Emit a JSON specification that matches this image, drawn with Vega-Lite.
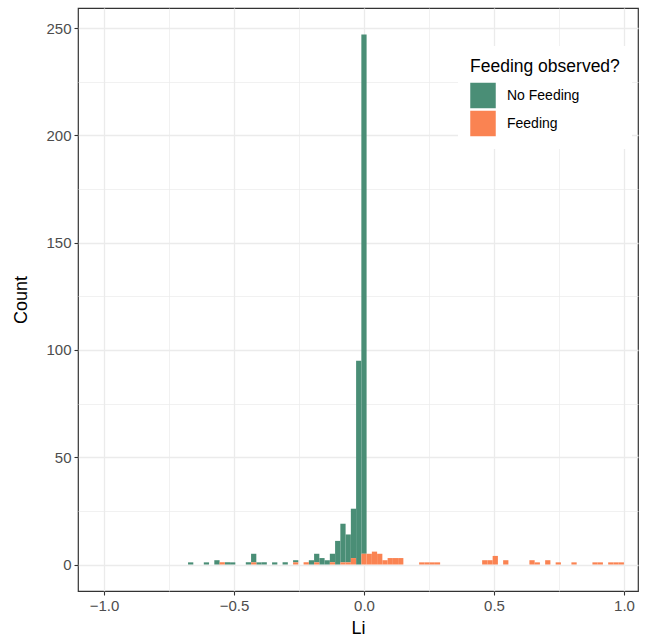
{
  "$schema": "https://vega.github.io/schema/vega-lite/v6.json",
  "autosize": {"type": "none"},
  "padding": {"left": 78, "top": 8, "right": 9, "bottom": 53},
  "width": 560,
  "height": 583,
  "config": {
    "font": "Liberation Sans",
    "view": {"stroke": "#333333", "strokeWidth": 1.2},
    "axis": {"labelFont": "Liberation Sans", "titleFont": "Liberation Sans"}
  },
  "data": {"values": [
    {"start": -0.6767, "end": -0.6565, "count": 1, "group": "No Feeding"},
    {"start": -0.6161, "end": -0.5959, "count": 1, "group": "No Feeding"},
    {"start": -0.5757, "end": -0.5555, "count": 2, "group": "No Feeding"},
    {"start": -0.5353, "end": -0.5151, "count": 1, "group": "No Feeding"},
    {"start": -0.5151, "end": -0.4949, "count": 1, "group": "No Feeding"},
    {"start": -0.4545, "end": -0.4343, "count": 1, "group": "No Feeding"},
    {"start": -0.4343, "end": -0.4141, "count": 4, "group": "No Feeding"},
    {"start": -0.4141, "end": -0.3939, "count": 1, "group": "No Feeding"},
    {"start": -0.3939, "end": -0.3737, "count": 1, "group": "No Feeding"},
    {"start": -0.3535, "end": -0.3333, "count": 1, "group": "No Feeding"},
    {"start": -0.3131, "end": -0.2929, "count": 1, "group": "No Feeding"},
    {"start": -0.2727, "end": -0.2525, "count": 1, "group": "No Feeding"},
    {"start": -0.2121, "end": -0.1919, "count": 2, "group": "No Feeding"},
    {"start": -0.1919, "end": -0.1717, "count": 4, "group": "No Feeding"},
    {"start": -0.1717, "end": -0.1515, "count": 3, "group": "No Feeding"},
    {"start": -0.1515, "end": -0.1313, "count": 2, "group": "No Feeding"},
    {"start": -0.1313, "end": -0.1111, "count": 4, "group": "No Feeding"},
    {"start": -0.1111, "end": -0.0909, "count": 11, "group": "No Feeding"},
    {"start": -0.0909, "end": -0.0707, "count": 18, "group": "No Feeding"},
    {"start": -0.0707, "end": -0.0505, "count": 13, "group": "No Feeding"},
    {"start": -0.0505, "end": -0.0303, "count": 23, "group": "No Feeding"},
    {"start": -0.0303, "end": -0.0101, "count": 95, "group": "No Feeding"},
    {"start": -0.0101, "end": 0.0101, "count": 242, "group": "No Feeding"},
    {"start": -0.5555, "end": -0.5353, "count": 1, "group": "Feeding"},
    {"start": -0.4343, "end": -0.4141, "count": 1, "group": "Feeding"},
    {"start": -0.2727, "end": -0.2525, "count": 1, "group": "Feeding"},
    {"start": -0.2323, "end": -0.2121, "count": 1, "group": "Feeding"},
    {"start": -0.1919, "end": -0.1717, "count": 1, "group": "Feeding"},
    {"start": -0.1313, "end": -0.1111, "count": 1, "group": "Feeding"},
    {"start": -0.0909, "end": -0.0707, "count": 1, "group": "Feeding"},
    {"start": -0.0707, "end": -0.0505, "count": 1, "group": "Feeding"},
    {"start": -0.0505, "end": -0.0303, "count": 3, "group": "Feeding"},
    {"start": -0.0101, "end": 0.0101, "count": 5, "group": "Feeding"},
    {"start": 0.0101, "end": 0.0303, "count": 5, "group": "Feeding"},
    {"start": 0.0303, "end": 0.0505, "count": 6, "group": "Feeding"},
    {"start": 0.0505, "end": 0.0707, "count": 5, "group": "Feeding"},
    {"start": 0.0707, "end": 0.0909, "count": 2, "group": "Feeding"},
    {"start": 0.0909, "end": 0.1111, "count": 3, "group": "Feeding"},
    {"start": 0.1111, "end": 0.1313, "count": 3, "group": "Feeding"},
    {"start": 0.1313, "end": 0.1515, "count": 3, "group": "Feeding"},
    {"start": 0.2121, "end": 0.2323, "count": 1, "group": "Feeding"},
    {"start": 0.2323, "end": 0.2525, "count": 1, "group": "Feeding"},
    {"start": 0.2525, "end": 0.2727, "count": 1, "group": "Feeding"},
    {"start": 0.2727, "end": 0.2929, "count": 1, "group": "Feeding"},
    {"start": 0.4545, "end": 0.4747, "count": 2, "group": "Feeding"},
    {"start": 0.4747, "end": 0.4949, "count": 2, "group": "Feeding"},
    {"start": 0.4949, "end": 0.5151, "count": 4, "group": "Feeding"},
    {"start": 0.5353, "end": 0.5555, "count": 2, "group": "Feeding"},
    {"start": 0.6363, "end": 0.6565, "count": 2, "group": "Feeding"},
    {"start": 0.6565, "end": 0.6767, "count": 1, "group": "Feeding"},
    {"start": 0.6969, "end": 0.7171, "count": 2, "group": "Feeding"},
    {"start": 0.7373, "end": 0.7575, "count": 1, "group": "Feeding"},
    {"start": 0.7979, "end": 0.8181, "count": 1, "group": "Feeding"},
    {"start": 0.8787, "end": 0.8989, "count": 1, "group": "Feeding"},
    {"start": 0.8989, "end": 0.9191, "count": 1, "group": "Feeding"},
    {"start": 0.9393, "end": 0.9595, "count": 1, "group": "Feeding"},
    {"start": 0.9595, "end": 0.9797, "count": 1, "group": "Feeding"},
    {"start": 0.9797, "end": 0.9999, "count": 1, "group": "Feeding"}
  ]},
  "transform": [
    {"stack": "count", "groupby": ["start"], "sort": [{"field": "group", "order": "ascending"}], "as": ["y0", "y1"]}
  ],
  "layer": [
    {
      "mark": {"type": "point", "opacity": 0},
      "encoding": {
        "x": {"field": "start", "type": "quantitative",
          "scale": {"domain": [-1.1, 1.054], "nice": false, "zero": false},
          "axis": {"orient": "top", "values": [-0.75, -0.25, 0.25, 0.75], "grid": true, "gridColor": "#EBEBEB", "gridWidth": 0.7, "labels": false, "ticks": false, "domain": false, "title": null}},
        "y": {"field": "y1", "type": "quantitative",
          "scale": {"domain": [-12.35, 259.35], "nice": false, "zero": false},
          "axis": {"orient": "right", "values": [25, 75, 125, 175, 225], "grid": true, "gridColor": "#EBEBEB", "gridWidth": 0.7, "labels": false, "ticks": false, "domain": false, "title": null}}
      }
    },
    {
      "mark": {"type": "bar", "strokeWidth": 0},
      "encoding": {
        "x": {"field": "start", "type": "quantitative",
          "scale": {"domain": [-1.1, 1.054], "nice": false, "zero": false},
          "axis": {"values": [-1, -0.5, 0, 0.5, 1], "format": ".1f", "grid": true, "gridColor": "#EBEBEB", "gridWidth": 1.3, "domain": false, "tickColor": "#333333", "tickSize": 4, "tickWidth": 1.1, "labelColor": "#4D4D4D", "labelFontSize": 15, "labelPadding": 3, "title": "Li", "titleFontSize": 18, "titleFontWeight": "normal", "titleColor": "#000000", "titlePadding": 6}},
        "x2": {"field": "end"},
        "y": {"field": "y0", "type": "quantitative",
          "scale": {"domain": [-12.35, 259.35], "nice": false, "zero": false},
          "axis": {"values": [0, 50, 100, 150, 200, 250], "grid": true, "gridColor": "#EBEBEB", "gridWidth": 1.3, "domain": false, "tickColor": "#333333", "tickSize": 4, "tickWidth": 1.1, "labelColor": "#4D4D4D", "labelFontSize": 15, "labelPadding": 3, "title": "Count", "titleFontSize": 18, "titleFontWeight": "normal", "titleColor": "#000000", "titlePadding": 15}},
        "y2": {"field": "y1"},
        "color": {"field": "group", "type": "nominal",
          "scale": {"domain": ["No Feeding", "Feeding"], "range": ["#4A8E76", "#FA8352"]},
          "legend": {"title": "Feeding observed?", "orient": "none", "legendX": 380, "legendY": 38,
            "fillColor": "#FFFFFF", "padding": 12, "titleFontSize": 17.5, "titleFontWeight": "normal", "titleColor": "#000000", "titlePadding": 7,
            "symbolType": "square", "symbolSize": 650, "symbolStrokeWidth": 0, "symbolOpacity": 1,
            "labelFontSize": 14, "labelColor": "#000000", "labelOffset": 11, "rowPadding": 2}}
      }
    }
  ],
  "resolve": {"axis": {"x": "independent", "y": "independent"}}
}
